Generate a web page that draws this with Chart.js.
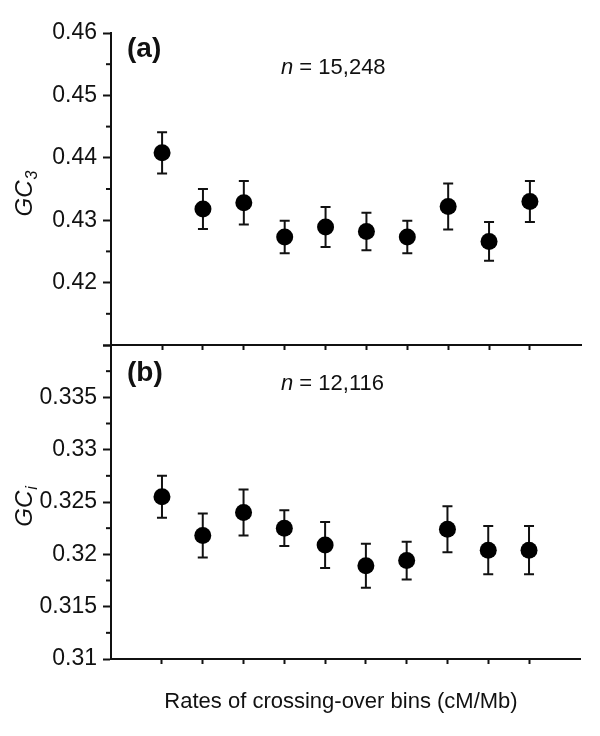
<!DOCTYPE html>
<html>
<head>
<meta charset="utf-8">
<script src="https://cdn.jsdelivr.net/npm/chart.js@4.4.1/dist/chart.umd.min.js"></script>
<style>
    body { margin: 0; background: #fff; }
    #wrap { position: relative; width: 600px; height: 736px; background: #fff; }
    #wrap canvas { position: absolute; left: 0; }
    #topChart { top: 0; }
    #bottomChart { top: 320px; }
</style>
</head>
<body>
<div id="wrap">
    <canvas id="topChart" width="600" height="365"></canvas>
    <canvas id="bottomChart" width="600" height="416"></canvas>
</div>
<script>
/**
 * GC3 / GCi by crossing-over rate bins
 */

const FONT = '"Liberation Sans", Arial, Helvetica, sans-serif';
const INK = '#111';

// Bins along the x axis (ten crossing-over rate classes)
const binPositions = [1, 2, 3, 4, 5, 6, 7, 8, 9, 10];

// Panel (a): GC3
const gc3Mean = [0.4408, 0.4318, 0.4328, 0.4273, 0.4289, 0.4282, 0.4273, 0.4322, 0.4266, 0.4330];
const gc3Err  = [0.0033, 0.0032, 0.0035, 0.0026, 0.0032, 0.0030, 0.0026, 0.0037, 0.0031, 0.0033];

// Panel (b): GCi
const gciMean = [0.3255, 0.3218, 0.3240, 0.3225, 0.3209, 0.3189, 0.3194, 0.3224, 0.3204, 0.3204];
const gciErr  = [0.0020, 0.0021, 0.0022, 0.0017, 0.0022, 0.0021, 0.0018, 0.0022, 0.0023, 0.0023];

// Axis ticks
const gc3TickValues = [0.41, 0.42, 0.43, 0.44, 0.45, 0.46];
const gc3TickLabels = ['', '0.42', '0.43', '0.44', '0.45', '0.46'];
const gc3MinorTicks = [0.415, 0.425, 0.435, 0.445, 0.455];

const gciTickValues = [0.31, 0.315, 0.32, 0.325, 0.33, 0.335, 0.34];
const gciTickLabels = ['0.31', '0.315', '0.32', '0.325', '0.33', '0.335', ''];
const gciMinorTicks = [0.3125, 0.3175, 0.3225, 0.3275, 0.3325, 0.3375];

// Error bars drawn under the points
const errorBarPlugin = {
    id: 'errorBars',
    beforeDatasetsDraw(chart) {
        const ctx = chart.ctx;
        const xs = chart.scales.x;
        const ys = chart.scales.y;
        chart.data.datasets.forEach(ds => {
            if (!ds.errors) return;
            ctx.save();
            ctx.strokeStyle = INK;
            ctx.lineWidth = 2;
            ds.data.forEach((p, i) => {
                const x = xs.getPixelForValue(p.x);
                const yTop = ys.getPixelForValue(p.y + ds.errors[i]);
                const yBot = ys.getPixelForValue(p.y - ds.errors[i]);
                ctx.beginPath();
                ctx.moveTo(x, yTop);
                ctx.lineTo(x, yBot);
                ctx.moveTo(x - 5, yTop);
                ctx.lineTo(x + 5, yTop);
                ctx.moveTo(x - 5, yBot);
                ctx.lineTo(x + 5, yBot);
                ctx.stroke();
            });
            ctx.restore();
        });
    }
};

// Short minor ticks on the y axis
const minorTickPlugin = {
    id: 'minorTicks',
    afterDraw(chart, args, opts) {
        if (!opts.values) return;
        const ctx = chart.ctx;
        const ys = chart.scales.y;
        const left = chart.chartArea.left;
        ctx.save();
        ctx.strokeStyle = INK;
        ctx.lineWidth = 2;
        opts.values.forEach(v => {
            const y = ys.getPixelForValue(v);
            ctx.beginPath();
            ctx.moveTo(left - 5, y);
            ctx.lineTo(left, y);
            ctx.stroke();
        });
        ctx.restore();
    }
};

// Panel letter, n label, y title with subscript, x title
const panelTextPlugin = {
    id: 'panelText',
    afterDraw(chart, args, opts) {
        const ctx = chart.ctx;
        ctx.save();
        ctx.fillStyle = INK;
        ctx.textBaseline = 'alphabetic';
        ctx.textAlign = 'left';

        // (a) / (b)
        ctx.font = `bold 28px ${FONT}`;
        ctx.fillText(opts.letter, 127, opts.letterY);

        // n = ...
        ctx.font = `italic 22px ${FONT}`;
        ctx.fillText('n', 281, opts.nY);
        const nW = ctx.measureText('n').width;
        ctx.font = `22px ${FONT}`;
        ctx.fillText(' = ' + opts.nText, 281 + nW, opts.nY);

        // rotated y title: GC with subscript
        ctx.translate(32, opts.yTitleCenter);
        ctx.rotate(-Math.PI / 2);
        ctx.font = `italic 24px ${FONT}`;
        const mainW = ctx.measureText('GC').width;
        ctx.font = `italic 16px ${FONT}`;
        const subW = ctx.measureText(opts.yTitleSub).width;
        const start = -(mainW + subW) / 2;
        ctx.font = `italic 24px ${FONT}`;
        ctx.fillText('GC', start, 0);
        ctx.font = `italic 16px ${FONT}`;
        ctx.fillText(opts.yTitleSub, start + mainW + 1, 5);
        ctx.restore();

        if (opts.xTitle) {
            ctx.save();
            ctx.fillStyle = INK;
            ctx.font = `22px ${FONT}`;
            ctx.textAlign = 'center';
            ctx.textBaseline = 'alphabetic';
            ctx.fillText(opts.xTitle, 341, opts.xTitleY);
            ctx.restore();
        }
    }
};

function makePanel(canvasId, means, errors, yMin, yMax, tickValues, tickLabels, minorTicks, padding, xAxisHeight, textOpts) {
    const ctx = document.getElementById(canvasId).getContext('2d');
    return new Chart(ctx, {
        type: 'scatter',
        data: {
            datasets: [{
                data: binPositions.map((x, i) => ({ x: x, y: means[i] })),
                errors: errors,
                pointRadius: 8.5,
                pointBackgroundColor: '#000',
                pointBorderColor: '#000',
                pointBorderWidth: 0,
                showLine: false
            }]
        },
        options: {
            responsive: false,
            animation: false,
            layout: { padding: padding },
            plugins: {
                legend: { display: false },
                tooltip: { enabled: false },
                minorTicks: { values: minorTicks },
                panelText: textOpts
            },
            scales: {
                x: {
                    type: 'linear',
                    min: -0.25,
                    max: 11.25,
                    afterBuildTicks: s => { s.ticks = binPositions.map(v => ({ value: v })); },
                    afterFit: s => { s.height = xAxisHeight; },
                    ticks: { display: false },
                    grid: { drawOnChartArea: false, tickLength: 5, tickWidth: 2, tickColor: INK },
                    border: { color: INK, width: 2 }
                },
                y: {
                    min: yMin,
                    max: yMax,
                    afterBuildTicks: s => { s.ticks = tickValues.map(v => ({ value: v })); },
                    afterFit: s => { s.width = 111; },
                    ticks: {
                        callback: (v, i) => tickLabels[i],
                        font: { family: FONT, size: 23 },
                        color: INK,
                        padding: 6
                    },
                    grid: { drawOnChartArea: false, tickLength: 8, tickWidth: 2, tickColor: INK },
                    border: { color: INK, width: 2 }
                }
            }
        },
        plugins: [errorBarPlugin, minorTickPlugin, panelTextPlugin]
    });
}

makePanel('topChart', gc3Mean, gc3Err, 0.41, 0.46, gc3TickValues, gc3TickLabels, gc3MinorTicks,
    { top: 33, right: 19, left: 0, bottom: 0 }, 20,
    { letter: '(a)', letterY: 57, nText: '15,248', nY: 74, yTitleSub: '3', yTitleCenter: 194 });

makePanel('bottomChart', gciMean, gciErr, 0.31, 0.34, gciTickValues, gciTickLabels, gciMinorTicks,
    { top: 25, right: 20, left: 0, bottom: 0 }, 77,
    { letter: '(b)', letterY: 61, nText: '12,116', nY: 70, yTitleSub: 'i', yTitleCenter: 187,
      xTitle: 'Rates of crossing-over bins (cM/Mb)', xTitleY: 388 });
</script>
</body>
</html>
